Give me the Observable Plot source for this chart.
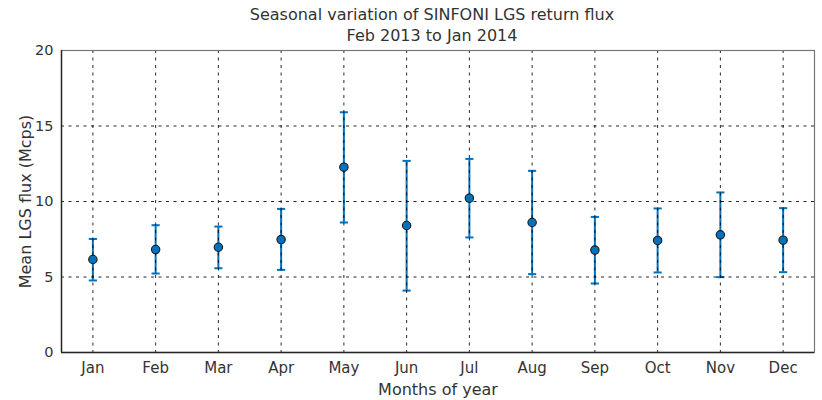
<!DOCTYPE html>
<html>
<head>
<meta charset="utf-8">
<script src="https://cdn.jsdelivr.net/npm/d3@7"></script>
<script src="https://cdn.jsdelivr.net/npm/@observablehq/plot@0.6"></script>
<style>
  html, body { margin: 0; padding: 0; background: #fff; }
  #chart svg { display: block; }
</style>
</head>
<body>
<div id="chart"></div>
<script>
const months = ["Jan","Feb","Mar","Apr","May","Jun","Jul","Aug","Sep","Oct","Nov","Dec"];
const meanFlux = [6.16, 6.82, 6.97, 7.48, 12.27, 8.41, 10.22, 8.61, 6.78, 7.42, 7.79, 7.44];
const upperFlux = [7.52, 8.43, 8.34, 9.51, 15.91, 12.69, 12.82, 12.03, 8.98, 9.54, 10.60, 9.56];
const lowerFlux = [4.77, 5.23, 5.58, 5.47, 8.61, 4.10, 7.62, 5.19, 4.57, 5.30, 4.99, 5.32];
const yTicks = [0, 5, 10, 15, 20];
const titleText = "Seasonal variation of SINFONI LGS return flux\nFeb 2013 to Jan 2014";
const xLabel = "Months of year";
const yLabel = "Mean LGS flux (Mcps)";

const data = months.map((m, i) => ({
  idx: i + 1, month: m, mean: meanFlux[i], hi: upperFlux[i], lo: lowerFlux[i]
}));
const capHalf = 0.065;
const blue = "#0072BD";
const ink = "#262626";
const font = "'DejaVu Sans', Verdana, sans-serif";

const chart = Plot.plot({
  width: 822,
  height: 400,
  marginTop: 50,
  marginBottom: 48,
  marginLeft: 61,
  marginRight: 8,
  style: { fontFamily: font, fontSize: "15px", color: ink, background: "#fff" },
  x: { domain: [0.5, 12.5] },
  y: { domain: [0, 20] },
  marks: [
    // error bars
    Plot.ruleX(data, { x: "idx", y1: "lo", y2: "hi", stroke: blue, strokeWidth: 2 }),
    Plot.link(data, { x1: d => d.idx - capHalf, x2: d => d.idx + capHalf, y1: "hi", y2: "hi", stroke: blue, strokeWidth: 2 }),
    Plot.link(data, { x1: d => d.idx - capHalf, x2: d => d.idx + capHalf, y1: "lo", y2: "lo", stroke: blue, strokeWidth: 2 }),
    // grid on top
    Plot.gridX(months.map((m, i) => i + 1), { stroke: "#000", strokeOpacity: 0.85, strokeDasharray: "3,4.5", strokeWidth: 1 }),
    Plot.gridY(yTicks, { stroke: "#000", strokeOpacity: 0.85, strokeDasharray: "3,4.5", strokeWidth: 1 }),
    // frame
    Plot.frame({ stroke: "#777", strokeWidth: 1.2 }),
    Plot.ruleY([0], { stroke: ink, strokeWidth: 1.4 }),
    Plot.ruleX([0.5], { stroke: ink, strokeWidth: 1.4 }),
    // points
    Plot.dot(data, { x: "idx", y: "mean", r: 4.2, fill: blue, stroke: "#1a1a1a", strokeWidth: 1.1 }),
    // axes
    Plot.axisX(months.map((m, i) => i + 1), {
      tickFormat: d => months[d - 1], tickSize: 0, tickPadding: 10,
      fontSize: 15, fill: "#333",
      label: xLabel, labelAnchor: "center", labelArrow: "none", labelOffset: 42
    }),
    Plot.axisY(yTicks, {
      tickSize: 0, tickPadding: 8, fontSize: 14.5, fill: "#333",
      label: yLabel, labelAnchor: "center", labelArrow: "none", labelOffset: 42
    }),
    // title
    Plot.text([titleText], { frameAnchor: "top", dx: -6, dy: -45, lineHeight: 1.3, fontSize: 16, fill: "#333", textAnchor: "middle", lineAnchor: "top" })
  ]
});
// bump axis label sizes
chart.querySelectorAll("[aria-label='x-axis label'] text, [aria-label='y-axis label'] text").forEach(t => t.setAttribute("font-size", 16));
document.getElementById("chart").appendChild(chart);
</script>
</body>
</html>
